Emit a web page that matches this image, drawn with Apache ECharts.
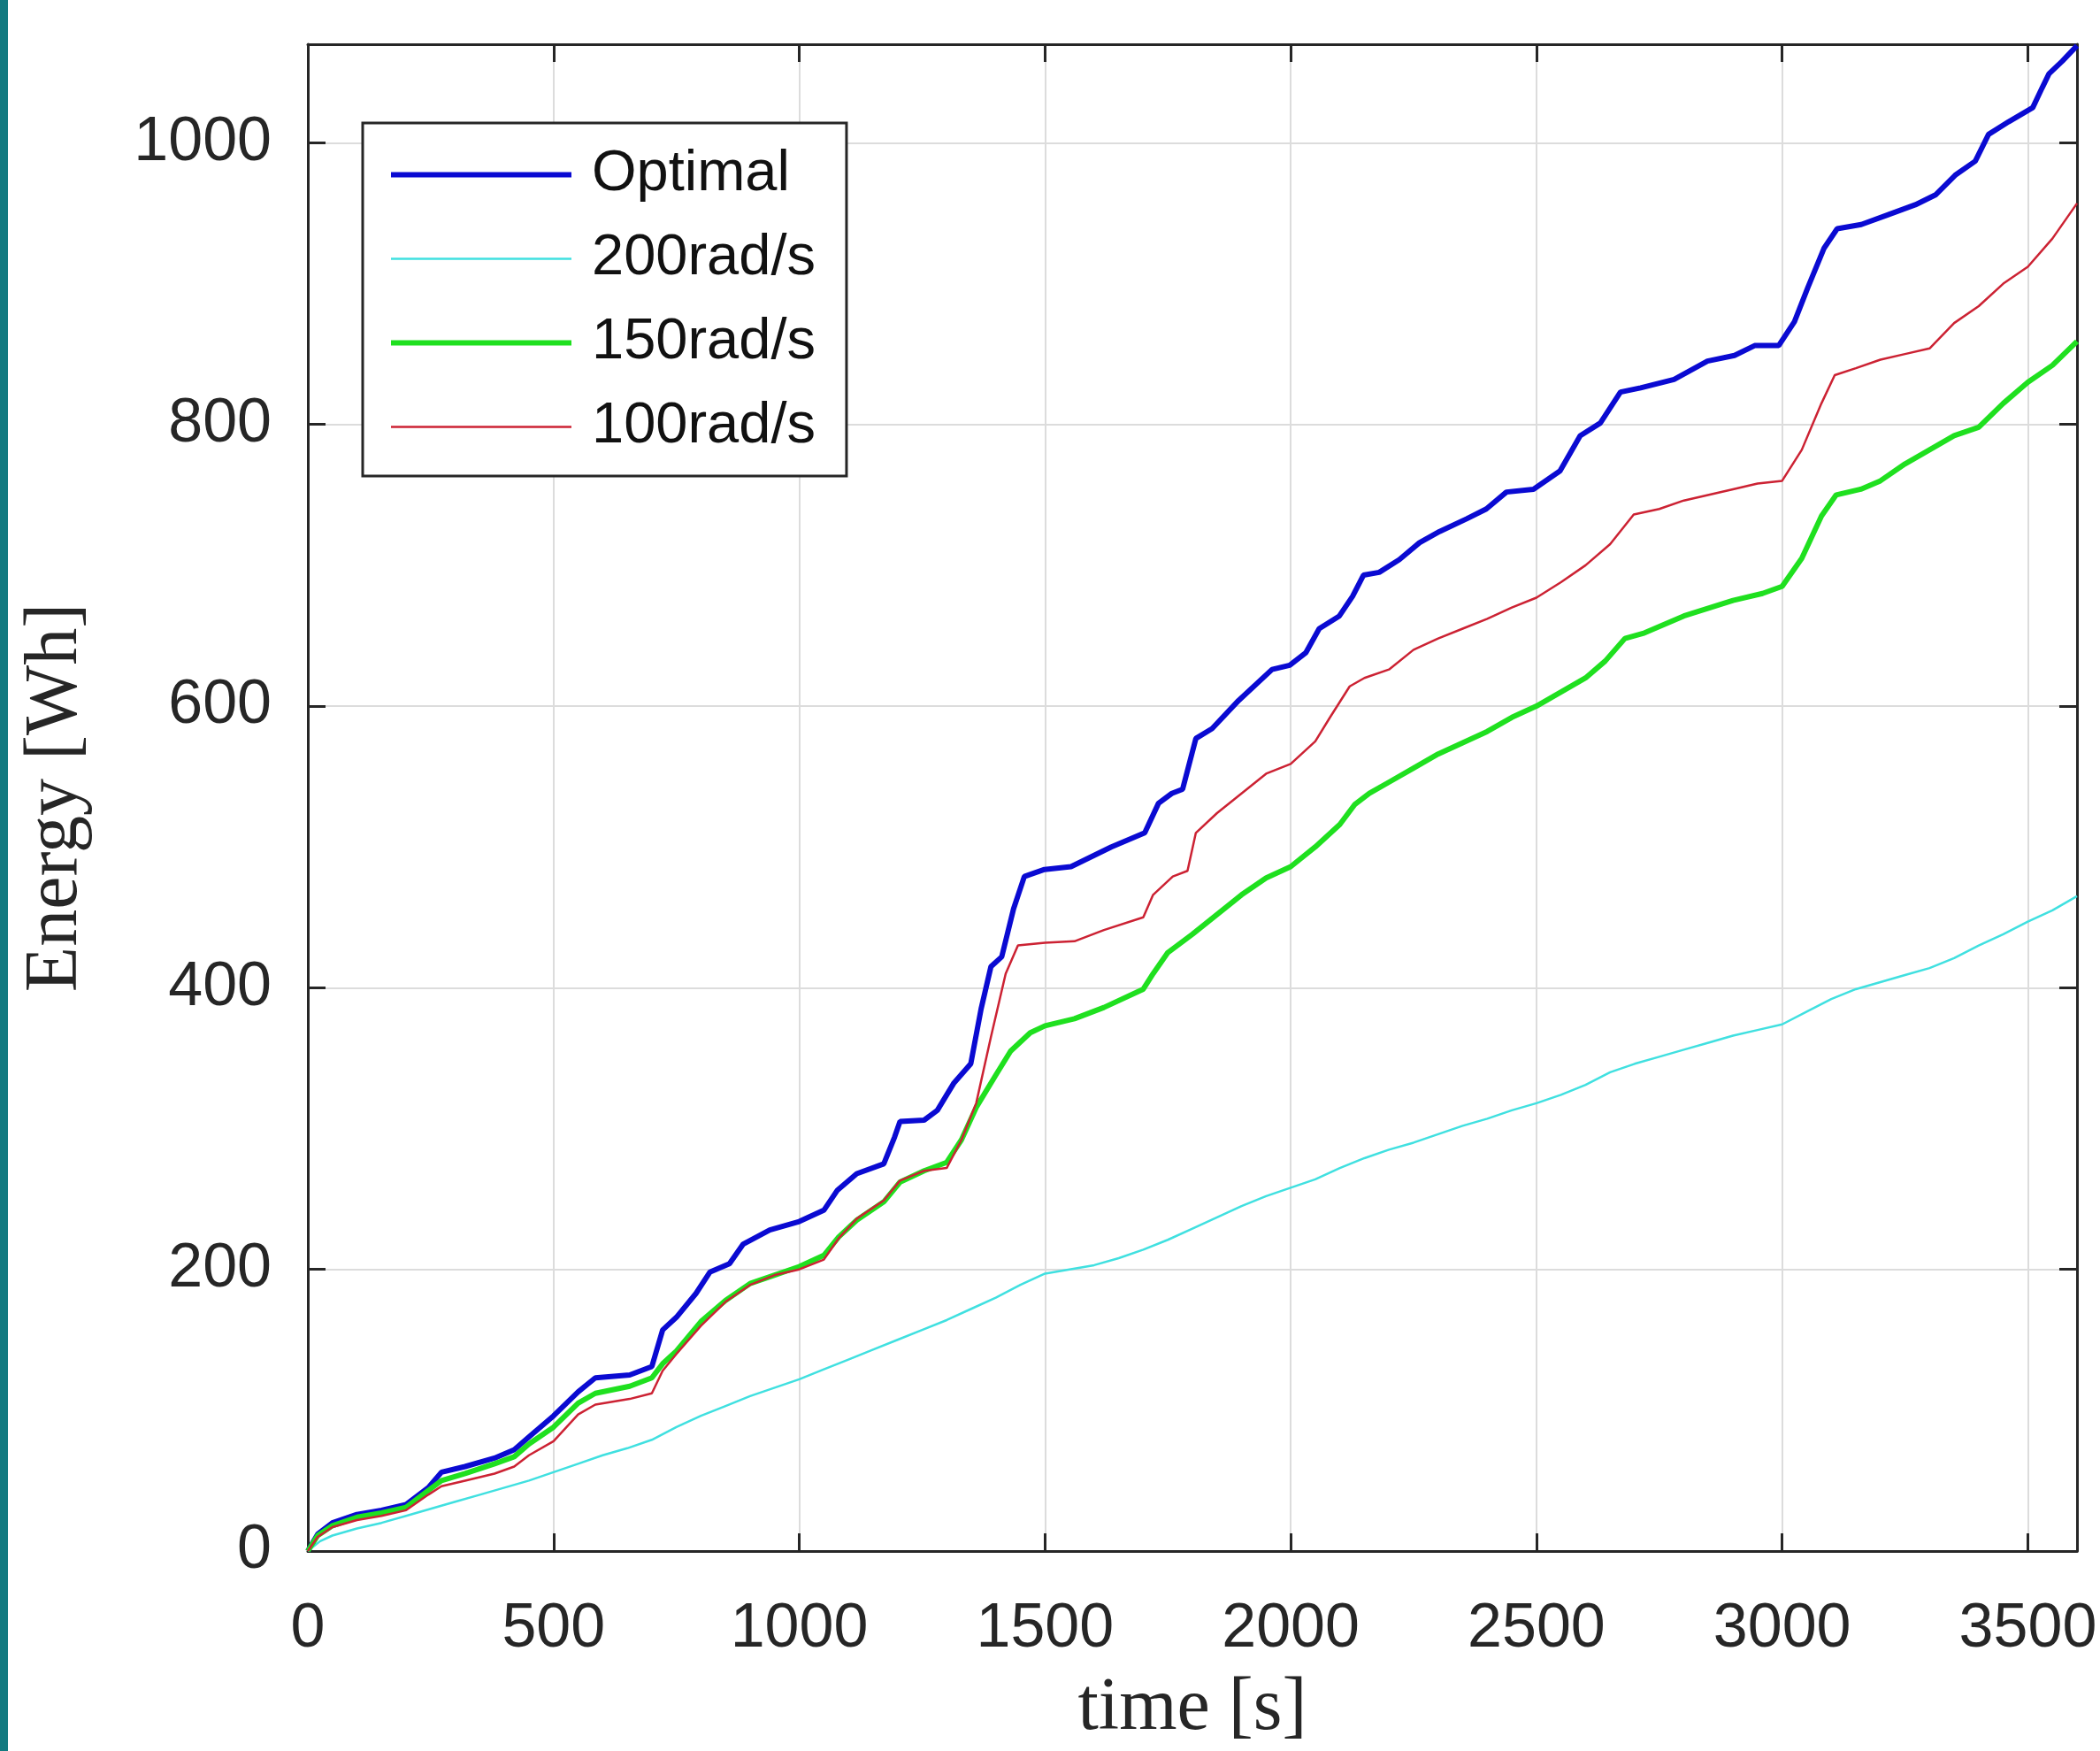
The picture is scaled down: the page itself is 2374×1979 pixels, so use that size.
<!DOCTYPE html>
<html>
<head>
<meta charset="utf-8">
<script src="https://cdn.jsdelivr.net/npm/echarts@6/dist/echarts.min.js"></script>
<style>
  html, body { margin: 0; padding: 0; background: #fff; }
  #chart { width: 2374px; height: 1979px; }
</style>
</head>
<body>
<div id="chart"></div>
<script>
// [time s, energy Wh]
const optimal = [[0,0],[20,12],[50,20],[100,26],[150,29],[200,33],[245,45],[272,56],[320,60],[380,66],[420,72],[450,81],[500,96],[550,113],[585,123],[655,125],[700,131],[722,157],[750,166],[790,183],[818,198],[858,204],[886,218],[940,228],[1000,234],[1050,242],[1077,256],[1117,268],[1172,275],[1194,294],[1205,305],[1254,306],[1281,313],[1314,332],[1349,346],[1370,385],[1390,415],[1412,422],[1436,456],[1458,479],[1499,484],[1553,486],[1635,500],[1703,510],[1731,531],[1758,538],[1780,541],[1807,577],[1840,584],[1894,604],[1962,626],[1998,629],[2031,638],[2058,655],[2099,664],[2126,678],[2148,693],[2180,695],[2221,704],[2262,716],[2303,724],[2358,733],[2398,740],[2439,752],[2494,754],[2548,767],[2589,792],[2630,801],[2671,823],[2712,826],[2780,832],[2848,845],[2903,849],[2944,856],[2993,856],[3025,873],[3052,897],[3085,925],[3112,939],[3161,942],[3216,949],[3271,956],[3312,963],[3352,977],[3393,987],[3420,1006],[3461,1015],[3510,1025],[3529,1039],[3543,1049],[3570,1058],[3600,1069]];

const rad200 = [[0,0],[25,7],[50,11],[100,16],[150,20],[200,25],[250,30],[300,35],[350,40],[400,45],[450,50],[500,56],[550,62],[600,68],[650,73],[700,79],[750,88],[800,96],[850,103],[900,110],[950,116],[1000,122],[1050,129],[1100,136],[1150,143],[1200,150],[1250,157],[1300,164],[1350,172],[1400,180],[1450,189],[1500,197],[1550,200],[1600,203],[1650,208],[1700,214],[1750,221],[1800,229],[1850,237],[1900,245],[1950,252],[2000,258],[2050,264],[2100,272],[2150,279],[2200,285],[2250,290],[2300,296],[2350,302],[2400,307],[2450,313],[2500,318],[2550,324],[2600,331],[2650,340],[2700,346],[2750,351],[2800,356],[2850,361],[2900,366],[2950,370],[3000,374],[3050,383],[3100,392],[3150,399],[3200,404],[3250,409],[3300,414],[3350,421],[3400,430],[3450,438],[3500,447],[3550,455],[3600,465]];

const rad150 = [[0,0],[20,11],[50,18],[100,24],[150,27],[200,31],[245,43],[272,50],[320,55],[380,62],[420,67],[450,76],[500,88],[550,105],[585,112],[655,117],[700,123],[722,133],[750,142],[800,163],[850,178],[900,190],[950,196],[1000,202],[1050,210],[1080,223],[1117,235],[1172,248],[1205,262],[1254,270],[1300,276],[1330,292],[1360,315],[1400,338],[1430,355],[1470,368],[1500,373],[1560,378],[1620,386],[1700,399],[1720,410],[1750,425],[1800,438],[1850,452],[1900,466],[1950,478],[2000,486],[2050,500],[2100,516],[2130,530],[2160,538],[2200,546],[2250,556],[2300,566],[2350,574],[2400,582],[2450,592],[2500,600],[2550,610],[2600,620],[2640,632],[2680,648],[2720,652],[2800,664],[2900,675],[2960,680],[3000,685],[3040,705],[3080,735],[3110,750],[3160,754],[3200,760],[3250,772],[3300,782],[3350,792],[3400,798],[3450,815],[3500,830],[3550,842],[3600,859]];

const rad100 = [[0,0],[20,10],[50,17],[100,22],[150,25],[200,29],[245,40],[272,46],[320,50],[380,55],[420,60],[450,68],[500,78],[550,97],[585,104],[655,108],[700,112],[722,128],[750,140],[800,160],[850,177],[900,189],[950,196],[1000,200],[1050,207],[1080,222],[1117,236],[1172,249],[1205,263],[1254,270],[1300,272],[1330,292],[1360,318],[1390,365],[1420,410],[1445,430],[1500,432],[1560,433],[1620,441],[1700,450],[1720,466],[1760,479],[1790,483],[1807,510],[1850,524],[1900,538],[1950,552],[2000,559],[2050,575],[2080,592],[2120,614],[2150,620],[2200,626],[2250,640],[2300,648],[2350,655],[2400,662],[2450,670],[2500,677],[2550,688],[2600,700],[2650,715],[2698,736],[2750,740],[2800,746],[2900,754],[2950,758],[3000,760],[3040,782],[3080,815],[3107,835],[3150,840],[3200,846],[3250,850],[3300,854],[3350,872],[3400,884],[3450,900],[3500,912],[3550,932],[3600,957]];

const names = ['Optimal', '200rad/s', '150rad/s', '100rad/s'];
const colors = ['#0a0ad2', '#40e0e0', '#1fe01f', '#cc2233'];
const widths = [6, 2.5, 6, 2.5];

const chart = echarts.init(document.getElementById('chart'));

const sansFont = '"Liberation Sans", Arial, sans-serif';
const serifFont = '"Liberation Serif", "Times New Roman", serif';
const axisCol = '#262626';
const plain = (v) => String(v);

const lineSeries = (i, data) => ({
  name: names[i],
  type: 'line',
  data: data,
  symbol: 'none',
  xAxisIndex: 0,
  yAxisIndex: 0,
  lineStyle: { color: colors[i], width: widths[i] },
  itemStyle: { color: colors[i] },
  animation: false
});

const mainAxis = (extra) => Object.assign({
  type: 'value',
  axisLine: { show: true, onZero: false, lineStyle: { color: axisCol, width: 3 } },
  axisTick: { show: true, inside: true, length: 20, lineStyle: { color: axisCol, width: 3 } },
  splitLine: { show: true, lineStyle: { color: '#dcdcdc', width: 2 } }
}, extra);

const boxAxis = (extra) => Object.assign({
  type: 'value',
  axisLine: { show: true, onZero: false, lineStyle: { color: axisCol, width: 3 } },
  axisTick: { show: true, inside: true, length: 20, lineStyle: { color: axisCol, width: 3 } },
  axisLabel: { show: false },
  splitLine: { show: false }
}, extra);

// legend entries: plain line, no marker dot
const legendData = names.map((n, i) => ({
  name: n,
  itemStyle: { color: 'rgba(0,0,0,0)', borderColor: 'rgba(0,0,0,0)', borderWidth: 0 },
  lineStyle: { color: colors[i], width: widths[i] }
}));

chart.setOption({
  backgroundColor: '#ffffff',
  animation: false,
  grid: { left: 348, right: 26, top: 50, bottom: 223, containLabel: false },
  graphic: [{
    type: 'rect',
    left: 0, top: 0,
    shape: { width: 9, height: 1979 },
    style: { fill: '#127a80' },
    silent: true
  }],
  legend: {
    data: legendData,
    orient: 'vertical',
    left: 410,
    top: 139,
    padding: [26, 35, 23, 29],
    itemGap: 30,
    itemWidth: 204,
    itemHeight: 20,
    backgroundColor: '#ffffff',
    borderColor: axisCol,
    borderWidth: 3,
    borderRadius: 0,
    selectedMode: false,
    textStyle: {
      fontSize: 65, lineHeight: 64, fontFamily: sansFont, color: '#111',
      padding: [0, 0, 0, 18]
    }
  },
  xAxis: [
    mainAxis({
      position: 'bottom', min: 0, max: 3600, interval: 500,
      axisLabel: { show: true, color: axisCol, fontSize: 70, fontFamily: sansFont, showMaxLabel: false, margin: 54, formatter: plain },
      name: 'time [s]',
      nameLocation: 'middle',
      nameGap: 137,
      nameTextStyle: { fontFamily: serifFont, fontSize: 84, color: axisCol }
    }),
    boxAxis({ position: 'top', min: 0, max: 3600, interval: 500 })
  ],
  yAxis: [
    mainAxis({
      position: 'left', min: 0, max: 1070, interval: 200,
      axisLabel: { show: true, color: axisCol, fontSize: 70, fontFamily: sansFont, showMaxLabel: false, margin: 41, formatter: plain },
      name: 'Energy [Wh]',
      nameLocation: 'middle',
      nameGap: 242,
      nameTextStyle: { fontFamily: serifFont, fontSize: 84, color: axisCol }
    }),
    boxAxis({ position: 'right', min: 0, max: 1070, interval: 200 })
  ],
  series: [
    lineSeries(0, optimal),
    lineSeries(1, rad200),
    lineSeries(2, rad150),
    lineSeries(3, rad100)
  ]
});

window.onresize = function () {
  chart.resize();
};
</script>
</body>
</html>
